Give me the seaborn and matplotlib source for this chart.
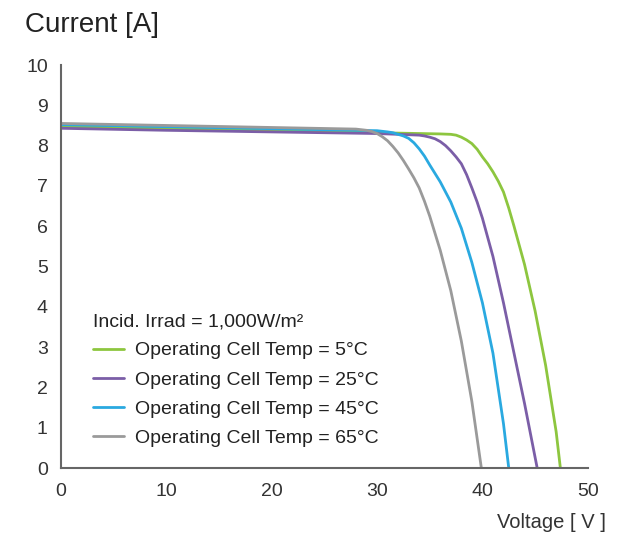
import pandas as pd
import matplotlib.pyplot as plt
import seaborn as sns

# I-V curves
v_5c = [0, 10, 20, 30, 36, 37, 37.5, 38, 38.5, 39, 39.5, 40, 40.5, 41, 41.5, 42, 42.5,
        43, 44, 45, 46, 47, 47.4]
i_5c = [8.48, 8.42, 8.37, 8.32, 8.29, 8.28, 8.26, 8.21, 8.14, 8.05, 7.91, 7.72, 7.55, 7.35,
        7.12, 6.85, 6.45, 6.0, 5.05, 3.9, 2.55, 0.9, 0]

v_25c = [0, 10, 20, 30, 34, 34.5, 35, 35.5, 36, 36.5, 37, 37.5, 38, 38.5, 39, 39.5, 40,
         41, 42, 43, 44, 45.2]
i_25c = [8.43, 8.38, 8.34, 8.30, 8.26, 8.24, 8.21, 8.17, 8.10, 8.0, 7.87, 7.72, 7.55, 7.28,
         6.95, 6.6, 6.2, 5.25, 4.1, 2.85, 1.6, 0]

v_45c = [0, 10, 20, 30, 31, 31.5, 32, 32.5, 33, 33.5, 34, 34.5, 35, 36, 37, 38, 39, 40,
         41, 42, 42.5]
i_45c = [8.52, 8.47, 8.42, 8.37, 8.34, 8.32, 8.28, 8.24, 8.18, 8.07, 7.92, 7.74, 7.52, 7.1,
         6.6, 5.95, 5.1, 4.1, 2.85, 1.1, 0]

v_65c = [0, 10, 20, 28, 29, 29.5, 30, 30.5, 31, 31.5, 32, 32.5, 33, 33.5, 34, 34.5, 35,
         36, 37, 38, 39, 39.9]
i_65c = [8.55, 8.50, 8.45, 8.41, 8.38, 8.35, 8.30, 8.22, 8.12, 7.98, 7.82, 7.63, 7.42, 7.2,
         6.95, 6.62, 6.25, 5.4, 4.4, 3.15, 1.65, 0]

labels = ['Operating Cell Temp = 5°C', 'Operating Cell Temp = 25°C',
          'Operating Cell Temp = 45°C', 'Operating Cell Temp = 65°C']
colors = ['#8dc63f', '#7b5ea7', '#2aa9e0', '#9a9a9a']

frames = []
for lab, v, i in zip(labels, [v_5c, v_25c, v_45c, v_65c], [i_5c, i_25c, i_45c, i_65c]):
    frames.append(pd.DataFrame({'Voltage': v, 'Current': i, 'curve': lab}))
df = pd.concat(frames, ignore_index=True)

sns.set_style('white')
plt.rcParams['font.family'] = ['Liberation Sans Narrow', 'Liberation Sans', 'DejaVu Sans']

fig = plt.figure(figsize=(6.32, 5.4), dpi=100)
ax = fig.add_axes([0.0965, 0.1333, 0.8335, 0.7463])

sns.lineplot(data=df, x='Voltage', y='Current', hue='curve', hue_order=labels,
             palette=colors, sort=False, estimator=None, linewidth=2, ax=ax)

ax.set_xlim(0, 50)
ax.set_ylim(0, 10)
ax.set_xticks(range(0, 51, 10))
ax.set_yticks(range(0, 11))
ax.set_xlabel('')
ax.set_ylabel('')
for side in ['top', 'right']:
    ax.spines[side].set_visible(False)
for side in ['left', 'bottom']:
    ax.spines[side].set_color('#666666')
    ax.spines[side].set_linewidth(1.5)
ax.tick_params(direction='in', length=4, width=1.2, color='#666666',
               labelsize=14, labelcolor='#333333')
ax.tick_params(axis='x', pad=11)
ax.tick_params(axis='y', pad=9.5)

fig.text(0.04, 0.93, 'Current [A]', fontsize=20, color='#222222', ha='left', va='bottom')
fig.text(0.958, 0.015, 'Voltage [ V ]', fontsize=14.5, color='#333333', ha='right', va='bottom')

leg = ax.legend(title='Incid. Irrad = 1,000W/m²', loc='lower left',
                bbox_to_anchor=(0.034, 0.018), frameon=False, fontsize=14,
                title_fontsize=14, handlelength=1.6, handletextpad=0.6,
                labelspacing=0.6, borderpad=0.2)
leg._legend_box.align = 'left'
for t in leg.get_texts():
    t.set_color('#222222')
leg.get_title().set_color('#222222')

plt.savefig('out.png', dpi=100)
